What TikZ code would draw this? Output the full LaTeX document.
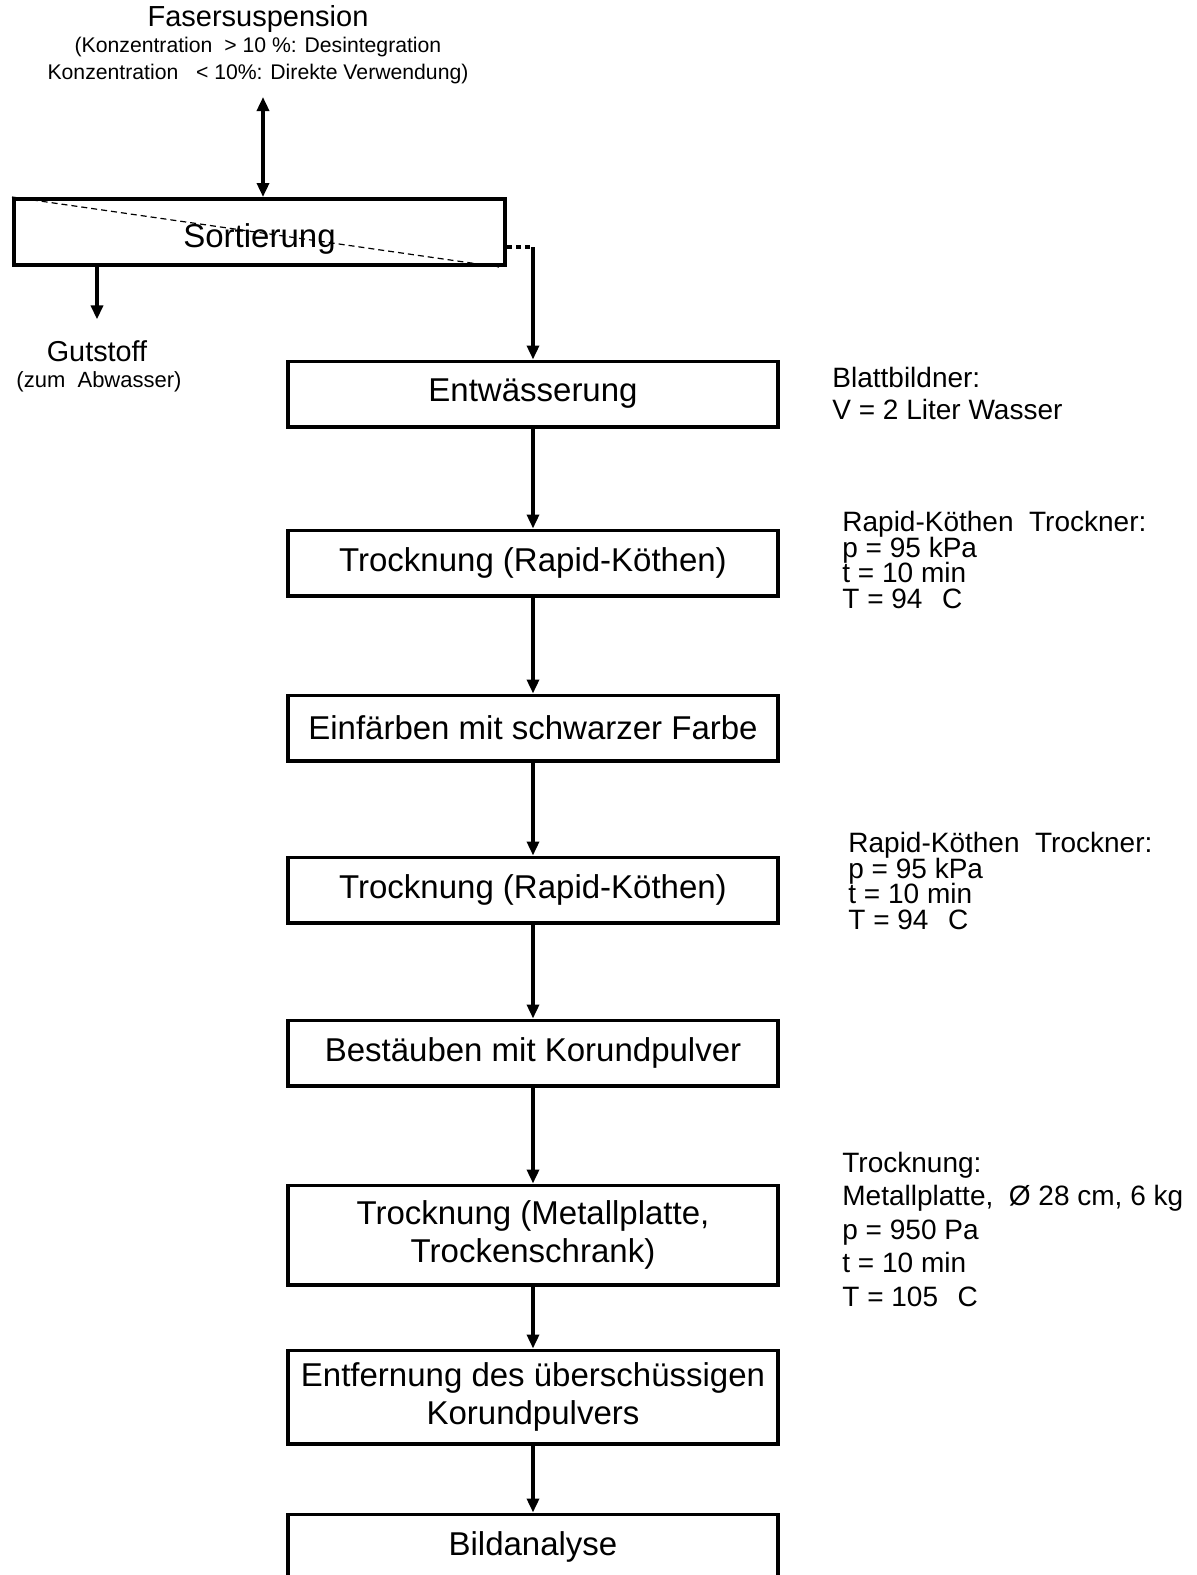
\documentclass[tikz,border=0pt]{standalone}
\usepackage{fontspec}
\setmainfont{Liberation Sans}
\usetikzlibrary{arrows.meta, positioning, calc}
\newcommand{\tightlines}{\fontsize{14}{12.8}\selectfont\lineskiplimit=-20pt\relax}

\begin{document}
\begin{tikzpicture}[
        x=0.5pt, y=-0.5pt,
        box/.style={draw, line width=1.8pt, minimum width=245.2pt, minimum height=32.7pt, inner sep=2pt, align=center, font=\fontsize{16.5}{19}\selectfont},
        note/.style={anchor=west, inner sep=0pt, align=left, font=\fontsize{14}{16}\selectfont},
        tight/.style={font=\tightlines},
        arrow/.style={-{Triangle[width=6pt,length=7pt]}, line width=1.7pt},
        biarrow/.style={{Triangle[width=6pt,length=7pt]}-{Triangle[width=6pt,length=7pt]}, line width=1.7pt},
        dashlink/.style={line width=1.7pt, dash pattern=on 2.5pt off 2pt}
    ]
        \useasboundingbox (0,0) rectangle (1197,1575);

        \node (fas) at (258,19) [font=\fontsize{14.5}{17}\selectfont] {Fasersuspension};
        \node (cond) at (258,61) [align=center, font=\fontsize{10.6}{13.5}\selectfont] {(Konzentration \ > 10 \%: Desintegration\\Konzentration \ \ < 10\%: Direkte Verwendung)};
        \coordinate (feedtop) at (263,97);

        \node (sort) [box, minimum width=245.7pt, minimum height=33.2pt] at (259.5,232) {\raisebox{-7.5pt}[0pt][0pt]{Sortierung}};
        \draw [dash pattern=on 3pt off 2pt, line width=0.6pt] (sort.north west) -- ($(sort.south east)+(-8,0)$);

        \node (gut) at (97,351) [font=\fontsize{14.4}{17}\selectfont] {Gutstoff};
        \node (gutnote) at (99,382) [font=\fontsize{11}{13}\selectfont] {(zum \ Abwasser)};

        \node (ent) [box] at (533,394) {Entwässerung};
        \node (tro1) [box, below=50pt of ent] {Trocknung (Rapid-Köthen)};
        \node (ein) [box, below=48pt of tro1] {Einfärben mit schwarzer Farbe};
        \node (tro2) [box, below=46.5pt of ein] {Trocknung (Rapid-Köthen)};
        \node (best) [box, below=47pt of tro2] {Bestäuben mit Korundpulver};
        \node (tro3) [box, minimum height=49.7pt, below=48pt of best] {Trocknung (Metallplatte,\\Trockenschrank)};
        \node (entf) [box, minimum height=46.7pt, below=31pt of tro3] {Entfernung des überschüssigen\\Korundpulvers};
        \node (bild) [box, below=33.5pt of entf] {Bildanalyse};

        \node (blatt) [note] at (832,393) {Blattbildner:\\V = 2 Liter Wasser};
        \node (rk1) [note, tight] at (842,560) {Rapid-Köthen \ Trockner:\\p = 95 kPa\\t = 10 min\\T = 94\hspace{0.7em}C};
        \node (rk2) [note, tight] at (848,881) {Rapid-Köthen \ Trockner:\\p = 95 kPa\\t = 10 min\\T = 94\hspace{0.7em}C};
        \node (mp) [note, font=\fontsize{14}{16.75}\selectfont] at (842,1229) {Trocknung:\\Metallplatte, \ Ø 28 cm, 6 kg\\p = 950 Pa\\t = 10 min\\T = 105\hspace{0.7em}C};

        \coordinate (sortout) at ($(sort.east)+(0,15)$);
        \coordinate (bend) at (sortout -| ent.north);

        \draw [biarrow] (feedtop) -- (feedtop |- sort.north);
        \draw [arrow, shorten >=7pt] (sort.south -| gut.north) -- (gut.north);
        \draw [dashlink] (sortout) -- (bend);
        \draw [arrow] (bend) -- (ent.north);
        \draw [arrow] (ent) -- (tro1);
        \draw [arrow] (tro1) -- (ein);
        \draw [arrow] (ein) -- (tro2);
        \draw [arrow] (tro2) -- (best);
        \draw [arrow] (best) -- (tro3);
        \draw [arrow] (tro3) -- (entf);
        \draw [arrow] (entf) -- (bild);
    \end{tikzpicture}
\end{document}
